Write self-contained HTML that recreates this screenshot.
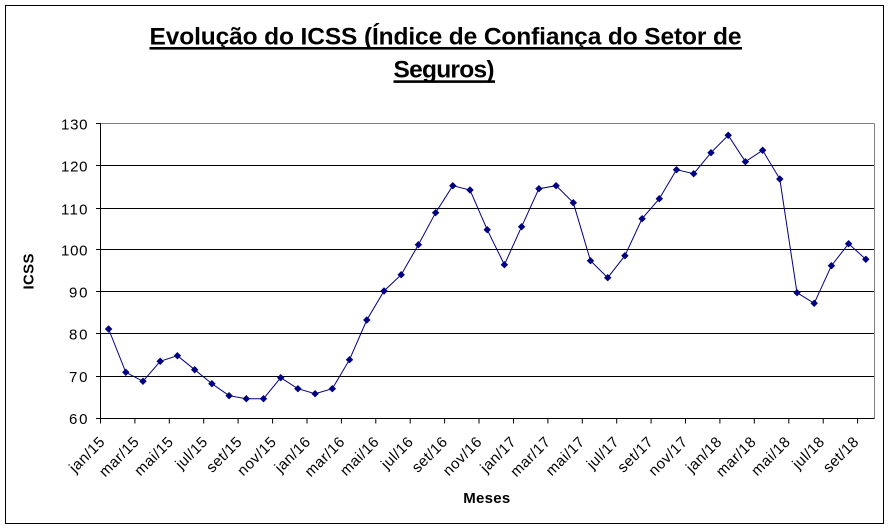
<!DOCTYPE html>
<html><head><meta charset="utf-8"><style>
html,body{margin:0;padding:0;background:#fff;}
svg{display:block;}
text{font-family:"Liberation Sans",Arial,sans-serif;fill:#000;}
</style></head><body>
<svg width="890" height="529" viewBox="0 0 890 529" xmlns="http://www.w3.org/2000/svg">
<defs>
<marker id="d" markerUnits="userSpaceOnUse" markerWidth="9" markerHeight="9" refX="4.5" refY="4.5" viewBox="0 0 9 9" overflow="visible">
<path d="M4.5,1.2 L7.8,4.5 L4.5,7.8 L1.2,4.5 Z" fill="#000080" stroke="#000080" stroke-width="0.6"/>
</marker>
</defs>
<rect x="0" y="0" width="890" height="529" fill="#fff"/>
<rect x="5.5" y="5.5" width="878" height="518" fill="none" stroke="#000" stroke-width="1"/>
<!-- Title -->
<text x="149.5" y="44.5" font-size="24.5" font-weight="bold" textLength="592" lengthAdjust="spacing">Evolução do ICSS (Índice de Confiança do Setor de</text>
<rect x="149.5" y="47" width="592.5" height="2.6" fill="#000"/>
<text x="393.5" y="77.5" font-size="24.5" font-weight="bold" textLength="101" lengthAdjust="spacing">Seguros)</text>
<rect x="393.5" y="80.3" width="101.5" height="2.6" fill="#000"/>
<!-- plot border (gray top/right) -->
<line x1="100" y1="123.5" x2="874.5" y2="123.5" stroke="#808080" stroke-width="1"/>
<line x1="874.5" y1="123.5" x2="874.5" y2="418.5" stroke="#808080" stroke-width="1"/>
<!-- gridlines -->
<g stroke="#000" stroke-width="1">
<line x1="96" y1="165.5" x2="874" y2="165.5"/>
<line x1="96" y1="208.5" x2="874" y2="208.5"/>
<line x1="96" y1="249.5" x2="874" y2="249.5"/>
<line x1="96" y1="291.5" x2="874" y2="291.5"/>
<line x1="96" y1="333.5" x2="874" y2="333.5"/>
<line x1="96" y1="376.5" x2="874" y2="376.5"/>
<line x1="96" y1="418.5" x2="874.5" y2="418.5"/>
<line x1="96" y1="123.5" x2="100" y2="123.5"/>
<line x1="100.5" y1="123" x2="100.5" y2="423.5"/>
</g>
<!-- x ticks -->
<g stroke="#000" stroke-width="1">
<line x1="134.9" y1="418" x2="134.9" y2="423.5"/>
<line x1="169.3" y1="418" x2="169.3" y2="423.5"/>
<line x1="203.7" y1="418" x2="203.7" y2="423.5"/>
<line x1="238.1" y1="418" x2="238.1" y2="423.5"/>
<line x1="272.6" y1="418" x2="272.6" y2="423.5"/>
<line x1="307.0" y1="418" x2="307.0" y2="423.5"/>
<line x1="341.4" y1="418" x2="341.4" y2="423.5"/>
<line x1="375.8" y1="418" x2="375.8" y2="423.5"/>
<line x1="410.2" y1="418" x2="410.2" y2="423.5"/>
<line x1="444.6" y1="418" x2="444.6" y2="423.5"/>
<line x1="479.0" y1="418" x2="479.0" y2="423.5"/>
<line x1="513.5" y1="418" x2="513.5" y2="423.5"/>
<line x1="547.9" y1="418" x2="547.9" y2="423.5"/>
<line x1="582.3" y1="418" x2="582.3" y2="423.5"/>
<line x1="616.7" y1="418" x2="616.7" y2="423.5"/>
<line x1="651.1" y1="418" x2="651.1" y2="423.5"/>
<line x1="685.5" y1="418" x2="685.5" y2="423.5"/>
<line x1="719.9" y1="418" x2="719.9" y2="423.5"/>
<line x1="754.3" y1="418" x2="754.3" y2="423.5"/>
<line x1="788.8" y1="418" x2="788.8" y2="423.5"/>
<line x1="823.2" y1="418" x2="823.2" y2="423.5"/>
<line x1="857.6" y1="418" x2="857.6" y2="423.5"/>
</g>
<!-- y labels -->
<g font-size="15" text-anchor="end">
<text x="87.5" y="129.5" textLength="26.5" lengthAdjust="spacing">130</text>
<text x="87.5" y="171.5" textLength="26.5" lengthAdjust="spacing">120</text>
<text x="87.5" y="214.5" textLength="26.5" lengthAdjust="spacing">110</text>
<text x="87.5" y="255.5" textLength="26.5" lengthAdjust="spacing">100</text>
<text x="87.5" y="297.5" textLength="18.5" lengthAdjust="spacing">90</text>
<text x="87.5" y="339.5" textLength="18.5" lengthAdjust="spacing">80</text>
<text x="87.5" y="382" textLength="18.5" lengthAdjust="spacing">70</text>
<text x="87.5" y="424" textLength="18.5" lengthAdjust="spacing">60</text>
</g>
<!-- axis titles -->
<text transform="translate(33.5,271.5) rotate(-90)" font-size="15" font-weight="bold" text-anchor="middle" textLength="36" lengthAdjust="spacing">ICSS</text>
<text x="486.7" y="503" font-size="15" font-weight="bold" text-anchor="middle" textLength="47" lengthAdjust="spacing">Meses</text>
<!-- x labels -->
<g font-size="15" text-anchor="end">
<text transform="translate(105.5,443) rotate(-45)" textLength="43" lengthAdjust="spacing">jan/15</text>
<text transform="translate(139.8,443) rotate(-45)" textLength="49" lengthAdjust="spacing">mar/15</text>
<text transform="translate(174.0,443) rotate(-45)" textLength="47.5" lengthAdjust="spacing">mai/15</text>
<text transform="translate(208.3,443) rotate(-45)" textLength="38" lengthAdjust="spacing">jul/15</text>
<text transform="translate(242.6,443) rotate(-45)" textLength="43" lengthAdjust="spacing">set/15</text>
<text transform="translate(276.9,443) rotate(-45)" textLength="47.5" lengthAdjust="spacing">nov/15</text>
<text transform="translate(311.1,443) rotate(-45)" textLength="43" lengthAdjust="spacing">jan/16</text>
<text transform="translate(345.4,443) rotate(-45)" textLength="49" lengthAdjust="spacing">mar/16</text>
<text transform="translate(379.7,443) rotate(-45)" textLength="47.5" lengthAdjust="spacing">mai/16</text>
<text transform="translate(413.9,443) rotate(-45)" textLength="38" lengthAdjust="spacing">jul/16</text>
<text transform="translate(448.2,443) rotate(-45)" textLength="43" lengthAdjust="spacing">set/16</text>
<text transform="translate(482.5,443) rotate(-45)" textLength="47.5" lengthAdjust="spacing">nov/16</text>
<text transform="translate(516.7,443) rotate(-45)" textLength="43" lengthAdjust="spacing">jan/17</text>
<text transform="translate(551.0,443) rotate(-45)" textLength="49" lengthAdjust="spacing">mar/17</text>
<text transform="translate(585.3,443) rotate(-45)" textLength="47.5" lengthAdjust="spacing">mai/17</text>
<text transform="translate(619.6,443) rotate(-45)" textLength="38" lengthAdjust="spacing">jul/17</text>
<text transform="translate(653.8,443) rotate(-45)" textLength="43" lengthAdjust="spacing">set/17</text>
<text transform="translate(688.1,443) rotate(-45)" textLength="47.5" lengthAdjust="spacing">nov/17</text>
<text transform="translate(722.4,443) rotate(-45)" textLength="43" lengthAdjust="spacing">jan/18</text>
<text transform="translate(756.6,443) rotate(-45)" textLength="49" lengthAdjust="spacing">mar/18</text>
<text transform="translate(790.9,443) rotate(-45)" textLength="47.5" lengthAdjust="spacing">mai/18</text>
<text transform="translate(825.2,443) rotate(-45)" textLength="38" lengthAdjust="spacing">jul/18</text>
<text transform="translate(859.4,443) rotate(-45)" textLength="43" lengthAdjust="spacing">set/18</text>
</g>
<!-- series -->
<polyline fill="none" stroke="#000080" stroke-width="1" marker-start="url(#d)" marker-mid="url(#d)" marker-end="url(#d)" points="108.6,329.0 125.8,372.3 143.0,381.3 160.2,361.3 177.4,355.7 194.7,369.7 211.9,383.7 229.1,395.7 246.3,398.7 263.5,398.7 280.7,377.7 297.9,388.7 315.1,393.7 332.3,388.7 349.5,359.7 366.8,320.0 384.0,291.0 401.2,274.7 418.4,244.7 435.6,212.7 452.8,185.7 470.0,190.0 487.2,229.7 504.4,264.7 521.6,226.7 538.9,188.7 556.1,185.7 573.3,202.7 590.5,260.7 607.7,277.7 624.9,255.7 642.1,218.7 659.3,198.7 676.5,169.7 693.7,173.7 711.0,152.7 728.2,135.3 745.4,161.7 762.6,150.3 779.8,179.0 797.0,292.7 814.2,303.3 831.4,265.7 848.6,243.7 865.8,259.3"/>
</svg>
</body></html>
